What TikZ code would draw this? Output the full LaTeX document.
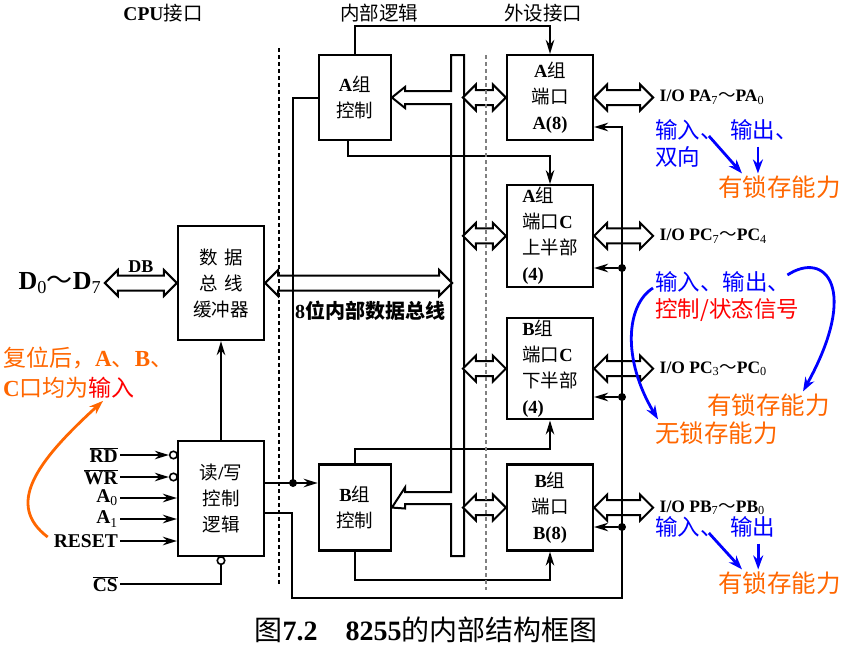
\documentclass[tikz,border=0pt]{standalone}
\usepackage{fontspec}
\setmainfont{Liberation Serif}
\newfontfamily\cjk{Noto Sans CJK SC}
\usetikzlibrary{
    arrows.meta,
    positioning,
    shapes.arrows,
    calc
}
\newcommand{\zh}[1]{{\cjk\mdseries #1}}
\newcommand{\zhb}[1]{{\cjk\bfseries #1}}
\definecolor{noteblue}{RGB}{0,0,255}
\definecolor{noteorange}{RGB}{255,102,0}
\definecolor{notered}{RGB}{255,0,0}

\begin{document}
\begin{tikzpicture}[
    x=1pt, y=-1pt,
    every node/.style={inner sep=2pt},
    box/.style={rectangle, draw, line width=2.2pt, align=center,
      font=\fontsize{18.5}{26}\selectfont\bfseries},
    port/.style={box, align=left, minimum width=86pt},
    wire/.style={line width=2pt},
    arrow/.style={wire, -{Stealth[length=14pt, width=8.5pt]}},
    bus/.style={double arrow, draw, line width=2pt, fill=white,
      inner xsep=0pt, inner ysep=6.5pt, double arrow head extend=5.5pt,
      minimum height=#1},
    sig/.style={font=\fontsize{19.5}{22}\selectfont\bfseries, anchor=east},
    bubble/.style={circle, draw, line width=1.6pt, fill=white,
      inner sep=0pt, minimum size=7.5pt},
    dot/.style={circle, fill, inner sep=0pt, minimum size=8pt},
    heading/.style={font=\fontsize{19.5}{22}\selectfont},
    ioname/.style={font=\fontsize{17.5}{20}\selectfont\bfseries},
    note/.style={font=\fontsize{22.5}{28}\selectfont, anchor=west},
    latch/.style={font=\fontsize{24.5}{28}\selectfont, text=noteorange, anchor=west},
    hint/.style={line width=2.8pt, noteblue, -{Stealth[length=14pt, width=10pt]}},
    zone/.style={dash pattern=on 4pt off 3pt, line width=1.2pt}
]
\useasboundingbox (0,0) rectangle (843,648);

% headings
\node[heading] (hcpu) at (163,13) {{\bfseries CPU}\zh{接口}};
\node[heading] (hlogic) at (379,13) {\zh{内部逻辑}};
\node[heading] (hdev) at (543,13) {\zh{外设接口}};

% ports
\node[port, align=center, minimum height=85pt] (porta) at (550,97.5) {A\zh{组}\\\zh{端口}\\A(8)};
\node[port, minimum height=100pt, below=43pt of porta] (portcu) {A\zh{组}\\\zh{端口}C\\\zh{上半部}\\(4)};
\node[port, minimum height=100pt, below=29pt of portcu] (portcl) {B\zh{组}\\\zh{端口}C\\\zh{下半部}\\(4)};
\node[port, align=center, minimum height=86pt, below=43pt of portcl] (portb) {B\zh{组}\\\zh{端口}\\B(8)};

% group control
\node[box, minimum width=72pt, minimum height=85pt, left=114pt of porta] (actl) {A\zh{组}\\\zh{控制}};
\node[box, minimum width=72pt, minimum height=86pt, left=114pt of portb] (bctl) {B\zh{组}\\\zh{控制}};

% cpu side
\node[box, minimum width=86pt, minimum height=114pt] (dbuf) at (221,283)
  {\zh{数}\hspace{0.35em}\zh{据}\\\zh{总}\hspace{0.35em}\zh{线}\\\zh{缓冲器}};
\node[box, minimum width=86pt, minimum height=115pt] (rwl) at (221,498.5)
  {\zh{读}/\zh{写}\\\zh{控制}\\\zh{逻辑}};

% internal bus
\draw[wire, fill=white] (464,55) -- (464,556) -- (451,556) -- (451,504)
  -- (405,504) -- (405,508.5) -- (bctl.east) -- (405,487.5) -- (405,492)
  -- (451,492) -- (451,104) -- (405,104) -- (405,108) -- (actl.east)
  -- (405,87) -- (405,91) -- (451,91) -- (451,55) -- cycle;

\node[bus=43pt] (busa) at ([xshift=-21.5pt]porta.west) {};
\node[bus=43pt] (buscu) at ([xshift=-21.5pt]portcu.west) {};
\node[bus=43pt] (buscl) at ([xshift=-21.5pt]portcl.west) {};
\node[bus=43pt] (busb) at ([xshift=-21.5pt]portb.west) {};
\node[bus=59pt] (ioa) at ([xshift=29.5pt]porta.east) {};
\node[bus=59pt] (iocu) at ([xshift=29.5pt]portcu.east) {};
\node[bus=59pt] (iocl) at ([xshift=29.5pt]portcl.east) {};
\node[bus=59pt] (iob) at ([xshift=29.5pt]portb.east) {};
\node[bus=187pt] (ibus) at ([xshift=93.5pt]dbuf.east) {};
\node[bus=72pt] (dbus) at ([xshift=-36pt]dbuf.west) {};

\node[font=\fontsize{26}{28}\selectfont\bfseries, left=0pt of dbus] (dpins)
  {D\textsubscript{\mdseries 0}\zh{～}D\textsubscript{\mdseries 7}};
\node[font=\fontsize{18}{20}\selectfont\bfseries, above=0pt of dbus] (dblabel) {DB};
\node[font=\fontsize{20}{22}\selectfont\bfseries, anchor=west] (ibuslabel) at (293,311)
  {8\zhb{位内部数据总线}};

\node[ioname, right=3pt of ioa] (ioalabel) {I/O PA\textsubscript{\mdseries 7}\zh{～}PA\textsubscript{\mdseries 0}};
\node[ioname, right=3pt of iocu] (iocuabel) {I/O PC\textsubscript{\mdseries 7}\zh{～}PC\textsubscript{\mdseries 4}};
\node[ioname, right=3pt of iocl] (iocllabel) {I/O PC\textsubscript{\mdseries 3}\zh{～}PC\textsubscript{\mdseries 0}};
\node[ioname, right=3pt of iob] (ioblabel) {I/O PB\textsubscript{\mdseries 7}\zh{～}PB\textsubscript{\mdseries 0}};

% control signals
\node[sig] (lrd) at (120,455) {$\overline{\mbox{RD}}$};
\node[sig] (lwr) at (120,477) {$\overline{\mbox{WR}}$};
\node[sig] (la0) at (120,498) {A\textsubscript{\mdseries 0}};
\node[sig] (la1) at (120,519) {A\textsubscript{\mdseries 1}};
\node[sig] (lreset) at (120,541) {RESET};
\node[sig] (lcs) at (120,584) {$\overline{\mbox{CS}}$};
\node[bubble] (crd) at ([xshift=-3.5pt]rwl.west |- lrd) {};
\node[bubble] (cwr) at ([xshift=-3.5pt]rwl.west |- lwr) {};
\node[bubble] (ccs) at ([yshift=-3.5pt]rwl.south) {};

\draw[arrow] (lrd) -- (crd);
\draw[arrow] (lwr) -- (cwr);
\draw[arrow] (la0) -- (la0 -| rwl.west);
\draw[arrow] (la1) -- (la1 -| rwl.west);
\draw[arrow] (lreset) -- (lreset -| rwl.west);
\draw[wire] (lcs) -| (ccs);
\draw[arrow] (rwl) -- (dbuf);

% group control lines
\coordinate (jn) at (293,483);
\draw[arrow] (rwl.east |- jn) -- (bctl.west |- jn);
\draw[wire] (jn) |- (actl.west);
\node[dot] (jdot) at (jn) {};

\coordinate (cbus) at (622,598);
\draw[arrow] (rwl.east |- 0,513) -| (292,598) -- (cbus) -- (cbus |- 0,127) -- (porta.east |- 0,127);
\foreach \p/\yy in {portcu/268, portcl/397, portb/527} {
  \node[dot] (tap-\p) at (cbus |- 0,\yy) {};
  \draw[arrow] (tap-\p) -- (\p.east |- tap-\p);
}

\draw[arrow] (actl.north) -- ++(0,-28) -| (porta.north);
\draw[arrow] ([xshift=-7pt]actl.south) -- ++(0,15) -| (portcu.north);
\draw[arrow] (bctl.north) -- ++(0,-14) -| (portcl.south);
\draw[arrow] (bctl.south) -- ++(0,28) -| (portb.south);

% boundaries
\draw[zone] (279,48) -- (279,585);
\draw[zone, gray] (486,55) -- (486,590);

% notes, port A
\node[note, text=noteblue] (aIn) at (653,130) {\zh{输入、}};
\node[note, text=noteblue] (aOut) at (728,130) {\zh{输出、}};
\node[note, text=noteblue] (aBi) at (653,157) {\zh{双向}};
\node[latch] (aLatch) at (716,187) {\zh{有锁存能力}};
\draw[hint] ([xshift=-16pt, yshift=-6pt]aIn.east) -- ([xshift=26pt]aLatch.north west);
\draw[hint] ([xshift=-6pt, yshift=-4pt]aOut.south) -- ([xshift=-6pt]aOut.south |- aLatch.north);

% notes, port C
\node[note, text=noteblue] (cMode) at (653,282) {\zh{输入、输出、}};
\node[note, text=notered] (cCtl) at (653,310) {\zh{控制/状态信号}};
\node[latch] (cLatch) at (705,405) {\zh{有锁存能力}};
\node[latch] (cNoLatch) at (653,433) {\zh{无锁存能力}};
\draw[hint] ([yshift=-6pt]cMode.west) .. controls +(-27,17) and +(-36,-60) .. ([xshift=5pt]cNoLatch.north west);
\draw[hint] ([xshift=-5pt, yshift=7pt]cMode.east) .. controls +(38,-25) and +(57,-103) .. ([xshift=98pt]cLatch.north west);

% notes, port B
\node[note, text=noteblue] (bIn) at (653,527) {\zh{输入、}};
\node[note, text=noteblue] (bOut) at (728,527) {\zh{输出}};
\node[latch] (bLatch) at (716,583) {\zh{有锁存能力}};
\draw[hint] ([xshift=-16pt, yshift=-6pt]bIn.east) -- ([xshift=26pt]bLatch.north west);
\draw[hint] ([xshift=5.5pt, yshift=-4pt]bOut.south) -- ([xshift=5.5pt]bOut.south |- bLatch.north);

% reset note
\node[font=\fontsize{23}{30}\selectfont, text=noteorange, align=left, anchor=west] (nReset) at (1,373)
  {\zh{复位后，}\textbf{A}\zh{、}\textbf{B}\zh{、}\\\textbf{C}\zh{口均为}\textcolor{notered}{\zh{输入}}};
\draw[line width=2.8pt, noteorange, -{Stealth[length=14pt, width=10pt]}]
  ([xshift=-4pt, yshift=4pt]lreset.west) .. controls +(-42,-32) and +(-68,62) .. ([xshift=102pt]nReset.south west);

% caption
\node[font=\fontsize{28}{30}\selectfont] (caption) at (426,630)
  {\zh{图}\textbf{7.2}\hspace{1em}\textbf{8255}\zh{的内部结构框图}};
\end{tikzpicture}
\end{document}
